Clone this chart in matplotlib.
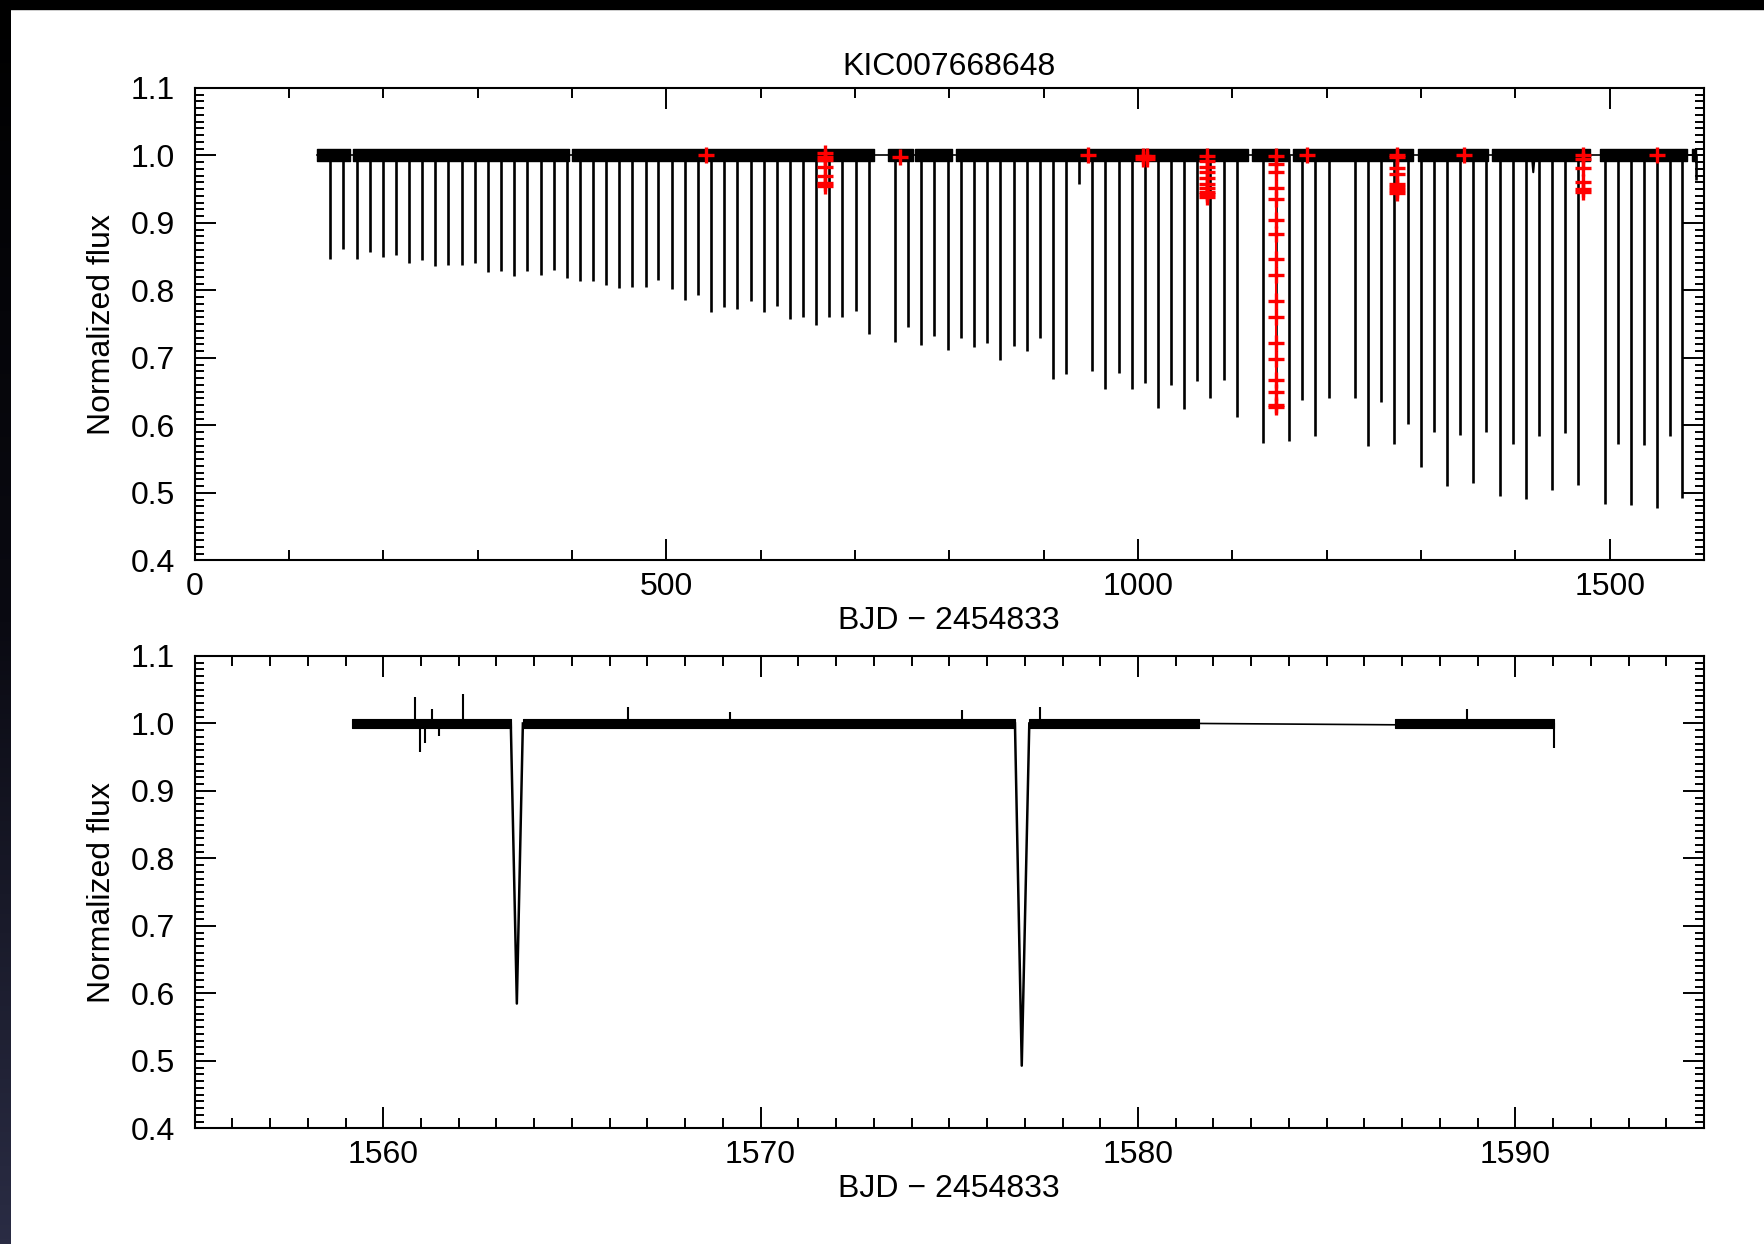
import numpy as np
import matplotlib.pyplot as plt
from matplotlib.colors import LinearSegmentedColormap
from matplotlib.patches import Rectangle
from matplotlib.ticker import MultipleLocator, FormatStrFormatter

plt.rcParams['font.family'] = ['Liberation Sans', 'DejaVu Sans']

# ---- top panel: full light curve (BJD - 2454833) ----
# eclipse mid-times and minimum normalized flux
ecl_t = [143.9, 157.7, 171.8, 185.6, 199.4, 213.1, 227.3, 241.0, 255.2, 268.9,
         283.1, 296.9, 311.0, 324.8, 338.9, 352.7, 366.8, 380.6, 394.4, 408.5,
         422.3, 436.1, 450.2, 464.0, 478.1, 491.6, 505.7, 519.5, 533.6, 547.4,
         561.5, 575.3, 589.4, 603.2, 617.0, 631.1, 644.9, 658.7, 672.8, 686.6,
         700.7, 714.5, 742.4, 756.6, 770.3, 784.1, 798.2, 812.0, 825.8, 839.9,
         853.7, 868.2, 882.0, 895.8, 909.6, 923.7, 937.5, 951.6, 965.4, 979.5,
         993.3, 1007.1, 1021.2, 1035.0, 1048.8, 1062.9, 1076.7, 1090.8, 1104.6, 1132.5,
         1146.3, 1160.1, 1174.2, 1188.0, 1202.1, 1230.0, 1243.8, 1257.9, 1271.7, 1285.9,
         1299.6, 1313.8, 1327.5, 1341.3, 1355.4, 1369.2, 1383.4, 1397.2, 1411.3, 1425.1,
         1438.8, 1453.0, 1466.8, 1494.7, 1508.8, 1522.6, 1536.4, 1550.5, 1563.6, 1577.0]
ecl_f = [0.847, 0.862, 0.847, 0.857, 0.850, 0.853, 0.841, 0.845, 0.836, 0.837,
         0.837, 0.841, 0.827, 0.828, 0.821, 0.829, 0.823, 0.830, 0.818, 0.814,
         0.814, 0.808, 0.803, 0.805, 0.805, 0.816, 0.802, 0.786, 0.793, 0.768,
         0.776, 0.772, 0.784, 0.768, 0.777, 0.757, 0.760, 0.748, 0.760, 0.760,
         0.769, 0.736, 0.723, 0.745, 0.719, 0.733, 0.712, 0.730, 0.716, 0.722,
         0.697, 0.718, 0.710, 0.730, 0.669, 0.676, 0.958, 0.681, 0.654, 0.678,
         0.654, 0.663, 0.626, 0.660, 0.625, 0.666, 0.640, 0.667, 0.613, 0.574,
         0.627, 0.577, 0.638, 0.584, 0.640, 0.640, 0.570, 0.634, 0.572, 0.602,
         0.539, 0.590, 0.510, 0.586, 0.514, 0.590, 0.495, 0.573, 0.491, 0.585,
         0.504, 0.588, 0.511, 0.484, 0.572, 0.482, 0.571, 0.478, 0.585, 0.493]

# stretches of continuous data (start, end)
seg_start = [130.1, 168.2, 399.7, 735.3, 763.6, 807.1, 1120.5, 1164.0, 1297.0, 1375.0, 1489.9, 1586.8]
seg_end = [164.7, 397.2, 720.2, 761.2, 802.5, 1116.9, 1160.0, 1291.7, 1371.0, 1479.3, 1581.6, 1591.0]

# small extra features
dip_t = [1417.5, 1419.0, 1420.5]
dip_f = [1.0, 0.975, 1.0]
end_t = 1591.0
end_f = 0.964

# flagged points (red crosses)
single_t = [542.1, 747.7, 947.3, 1179.0, 1345.5, 1550.5]
single_f = [1.0, 0.998, 1.0, 1.0, 1.0, 1.0]
c668_f = [1.004, 0.998, 0.993, 0.982, 0.969, 0.959, 0.955]
c1008_t = [1005.0, 1005.0, 1009.5, 1009.5]
c1008_f = [0.999, 0.994, 0.999, 0.994]
c1073_f = [0.999, 0.992, 0.983, 0.975, 0.967, 0.958, 0.951, 0.946, 0.943, 0.939]
c1146_f = [0.999, 0.987, 0.975, 0.952, 0.936, 0.904, 0.883, 0.847, 0.823, 0.784,
           0.760, 0.722, 0.699, 0.667, 0.650, 0.630, 0.627]
c1274_f = [1.000, 0.997, 0.981, 0.973, 0.958, 0.953, 0.949, 0.944]
c1472_f = [1.000, 0.995, 0.981, 0.961, 0.950, 0.945]
cluster_t = [667.8, 1073.4, 1146.3, 1274.2, 1472.0]
clusters = [c668_f, c1073_f, c1146_f, c1274_f, c1472_f]

# ---- bottom panel: zoom on the last quarter ----
zseg_start = [1559.17, 1563.70, 1577.12, 1586.82]
zseg_end = [1563.38, 1576.74, 1581.63, 1591.03]
ecl1_t = [1563.38, 1563.54, 1563.70]
ecl1_f = [1.0, 0.585, 1.0]
ecl2_t = [1576.74, 1576.92, 1577.12]
ecl2_f = [1.0, 0.493, 1.0]
spike_t = [1560.84, 1560.97, 1561.10, 1561.28, 1561.47, 1562.12, 1566.49, 1569.18,
           1575.34, 1577.40, 1588.71, 1591.03]
spike_f = [1.039, 0.958, 0.971, 1.022, 0.981, 1.044, 1.025, 1.017,
           1.020, 1.025, 1.021, 0.964]

FS = 23

fig = plt.figure(figsize=(17.64, 12.44), dpi=100)
ax1 = fig.add_axes([0.1103, 0.5495, 0.8557, 0.3799])
ax2 = fig.add_axes([0.1103, 0.0929, 0.8557, 0.3798])


def style(ax, xmajor, xminor):
    ax.set_ylim(0.4, 1.1)
    ax.xaxis.set_major_locator(MultipleLocator(xmajor))
    ax.xaxis.set_minor_locator(MultipleLocator(xminor))
    ax.yaxis.set_major_locator(MultipleLocator(0.1))
    ax.yaxis.set_minor_locator(MultipleLocator(0.01))
    ax.yaxis.set_major_formatter(FormatStrFormatter('%.1f'))
    ax.tick_params(which='both', direction='in', top=True, right=True,
                   width=1.4, labelsize=FS, color='k')
    ax.tick_params(axis='x', which='major', length=15, pad=8)
    ax.tick_params(axis='x', which='minor', length=7.5)
    ax.tick_params(axis='y', which='major', length=15, pad=14)
    ax.tick_params(axis='y', which='minor', length=6.5)
    for s in ax.spines.values():
        s.set_linewidth(1.5)
    ax.set_xlabel('BJD \u2212 2454833', fontsize=FS, labelpad=3)
    ax.set_ylabel('Normalized flux', fontsize=FS, labelpad=10)


# top panel
ax1.plot([seg_start[0], seg_end[-1]], [1.0, 1.0], color='k', lw=1.2)
for a, b in zip(seg_start, seg_end):
    ax1.fill_between([a, b], [0.991, 0.991], [1.009, 1.009], color='k', lw=1.0)
ax1.vlines(ecl_t, ecl_f, 1.0, color='k', lw=1.9)
ax1.plot(dip_t, dip_f, color='k', lw=1.5)
ax1.vlines([end_t], [end_f], 1.0, color='k', lw=1.9)
for t, fl in zip(cluster_t, clusters):
    ax1.plot([t] * len(fl), fl, color='red', lw=1.5, marker='+', ms=12, mew=2.4)
ax1.plot(c1008_t, c1008_f, color='red', lw=0, marker='+', ms=12, mew=2.4)
ax1.plot(single_t, single_f, color='red', lw=0, marker='+', ms=12, mew=2.4)
ax1.set_xlim(0, 1600)
style(ax1, 500, 100)
ax1.set_title('KIC007668648', fontsize=FS, pad=9)

# bottom panel
ax2.plot([zseg_end[2], zseg_start[3]], [1.0, 0.998], color='k', lw=1.2)
for a, b in zip(zseg_start, zseg_end):
    ax2.fill_between([a, b], [0.9935, 0.9935], [1.0065, 1.0065], color='k', lw=0.8)
ax2.plot(ecl1_t, ecl1_f, color='k', lw=1.8)
ax2.plot(ecl2_t, ecl2_f, color='k', lw=1.8)
ax2.vlines(spike_t, 1.0, spike_f, color='k', lw=1.5)
ax2.set_xlim(1555, 1595)
style(ax2, 10, 1)

# dark screenshot border (top and left edge)
strip = fig.add_axes([0, 0, 11 / 1764, 1])
cmap = LinearSegmentedColormap.from_list('edge', ['#000000', '#0a0a12', '#2a2c44'])
strip.imshow(np.linspace(0, 1, 256)[:, None], aspect='auto', cmap=cmap)
strip.set_axis_off()
fig.patches.append(Rectangle((0, 1 - 9 / 1244), 1, 9 / 1244, transform=fig.transFigure,
                             color='black', zorder=10))

fig.savefig('out.png', dpi=100)
